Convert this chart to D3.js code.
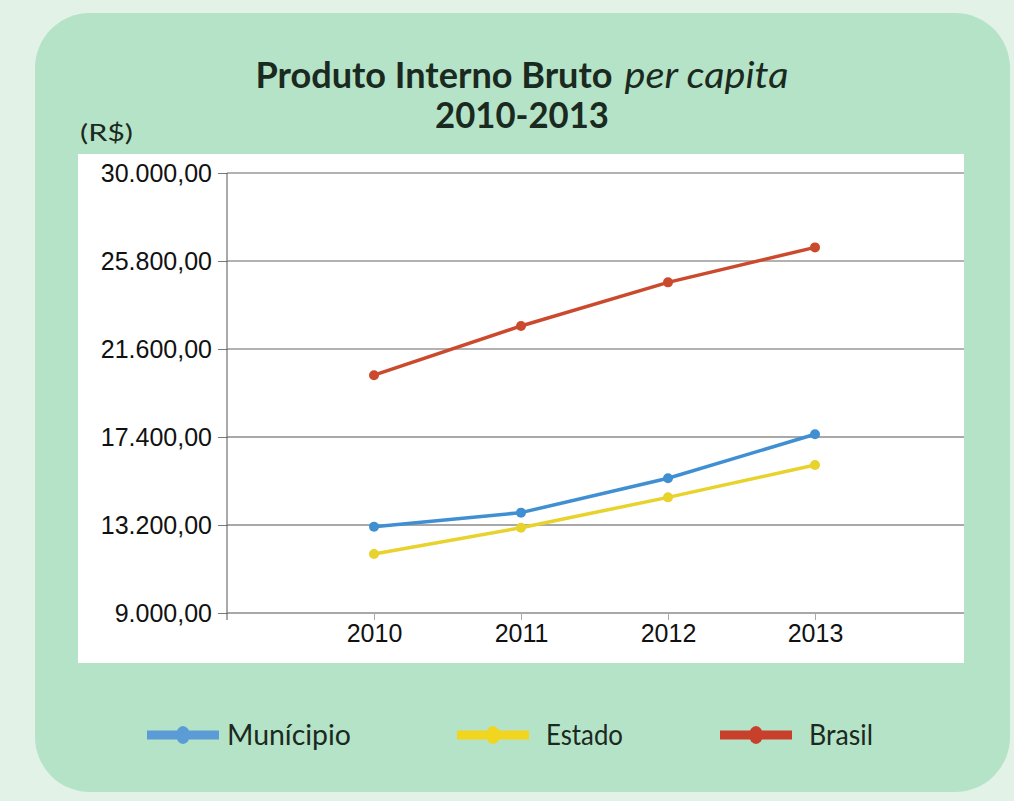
<!DOCTYPE html>
<html>
<head>
<meta charset="utf-8">
<script src="https://cdn.jsdelivr.net/npm/d3@7"></script>
<style>
  html, body { margin: 0; padding: 0; background: #e3f2e7; }
  svg { display: block; }
</style>
</head>
<body>
<div id="chart"></div>
<script>
var years = [2010, 2011, 2012, 2013];
var municipio = [13120, 13790, 15430, 17530];
var estado = [11820, 13070, 14520, 16060];
var brasil = [20350, 22700, 24780, 26450];
var yTicks = [9000, 13200, 17400, 21600, 25800, 30000];

var seriesNames = ["Munícipio", "Estado", "Brasil"];
var seriesColors = ["#3f8fd2", "#e8d22c", "#cb4a2e"];
var legendColors = ["#5b9bd6", "#f1d51f", "#c8402b"];

var width = 1014, height = 801;

var svg = d3.select("#chart")
    .append("svg")
    .attr("width", width)
    .attr("height", height);

// background + rounded panel
svg.append("rect")
    .attr("width", width).attr("height", height)
    .attr("fill", "#e3f2e7");
svg.append("rect")
    .attr("x", 35).attr("y", 13)
    .attr("width", 975).attr("height", 779)
    .attr("rx", 55).attr("ry", 55)
    .attr("fill", "#b5e3c8");

// white plot box
svg.append("rect")
    .attr("x", 78).attr("y", 154)
    .attr("width", 886).attr("height", 509)
    .attr("fill", "#ffffff");

// title
var title = svg.append("text")
    .attr("x", 522).attr("y", 88)
    .attr("text-anchor", "middle")
    .attr("fill", "#1b2a20")
    .attr("font-family", "Lato, 'Open Sans', sans-serif")
    .attr("font-size", "37px");
title.append("tspan")
    .attr("font-weight", "bold")
    .attr("textLength", 357)
    .attr("lengthAdjust", "spacingAndGlyphs")
    .text("Produto Interno Bruto");
title.append("tspan")
    .attr("font-style", "italic")
    .attr("dx", 12)
    .attr("textLength", 164)
    .attr("lengthAdjust", "spacingAndGlyphs")
    .text("per capita");

svg.append("text")
    .attr("x", 522).attr("y", 128)
    .attr("text-anchor", "middle")
    .attr("fill", "#1b2a20")
    .attr("font-family", "Lato, 'Open Sans', sans-serif")
    .attr("font-weight", "bold")
    .attr("font-size", "36px")
    .attr("textLength", 174)
    .attr("lengthAdjust", "spacingAndGlyphs")
    .text("2010-2013");

svg.append("text")
    .attr("x", 80).attr("y", 141)
    .attr("fill", "#1b2a20")
    .attr("font-family", "Lato, 'Open Sans', sans-serif")
    .attr("font-size", "24px")
    .attr("textLength", 53)
    .attr("lengthAdjust", "spacingAndGlyphs")
    .text("(R$)");

// scales
var x = d3.scaleLinear().domain([2009, 2014]).range([227, 962]);
var y = d3.scaleLinear().domain([9000, 30000]).range([613, 173]);

var ptbr = d3.formatLocale({decimal: ",", thousands: ".", grouping: [3], currency: ["R$", ""]});
var fmt = ptbr.format(",.2f");

// y axis with gridlines
var yAxis = svg.append("g")
    .attr("transform", "translate(227,0)")
    .call(d3.axisLeft(y).tickValues(yTicks).tickFormat(fmt).tickSize(9).tickPadding(6));
yAxis.select(".domain").remove();
yAxis.selectAll(".tick line").attr("stroke", "#777");
yAxis.selectAll(".tick text")
    .attr("fill", "#111")
    .attr("font-family", "'Liberation Sans', Arial, sans-serif")
    .attr("font-size", "25px");

svg.append("g")
    .selectAll("line")
    .data(yTicks)
    .enter()
    .append("line")
    .attr("x1", 227).attr("x2", 964)
    .attr("y1", function(d){ return y(d); })
    .attr("y2", function(d){ return y(d); })
    .attr("stroke", function(d){ return d >= 21600 ? "#666" : "#a8a8a8"; })
    .attr("stroke-width", function(d){ return d >= 21600 ? 1.2 : 2; });

// y axis line
svg.append("line")
    .attr("x1", 227).attr("x2", 227)
    .attr("y1", y(30000)).attr("y2", y(9000) + 7)
    .attr("stroke", "#555").attr("stroke-width", 1);

// x axis
var xAxis = svg.append("g")
    .attr("transform", "translate(0," + y(9000) + ")")
    .call(d3.axisBottom(x).tickValues(years).tickFormat(d3.format("d")).tickSize(7).tickPadding(4));
xAxis.select(".domain").remove();
xAxis.selectAll(".tick line").attr("stroke", "#aaa");
xAxis.selectAll(".tick text")
    .attr("fill", "#111")
    .attr("font-family", "'Liberation Sans', Arial, sans-serif")
    .attr("font-size", "25px");

// lines
var allSeries = [municipio, estado, brasil];
var line = d3.line()
    .x(function(d, i){ return x(years[i]); })
    .y(function(d){ return y(d); });

allSeries.forEach(function(vals, s) {
    svg.append("path")
        .datum(vals)
        .attr("d", line)
        .attr("fill", "none")
        .attr("stroke", seriesColors[s])
        .attr("stroke-width", 3.5);
    svg.selectAll(".pt" + s)
        .data(vals)
        .enter()
        .append("circle")
        .attr("class", "pt" + s)
        .attr("cx", function(d, i){ return x(years[i]); })
        .attr("cy", function(d){ return y(d); })
        .attr("r", 5)
        .attr("fill", seriesColors[s]);
});

// legend
var legendX = [147, 457, 720];
var legendW = [124, 77, 64];
var legend = svg.selectAll(".legend")
    .data(seriesNames)
    .enter()
    .append("g")
    .attr("class", "legend")
    .attr("transform", function(d, i){ return "translate(" + legendX[i] + ",735)"; });
legend.append("line")
    .attr("x1", 0).attr("x2", 72)
    .attr("y1", 0).attr("y2", 0)
    .attr("stroke", function(d, i){ return legendColors[i]; })
    .attr("stroke-width", 9);
legend.append("ellipse")
    .attr("cx", 36).attr("cy", 0)
    .attr("rx", 7).attr("ry", 9)
    .attr("fill", function(d, i){ return legendColors[i]; });
legend.append("text")
    .attr("x", function(d, i){ return i == 0 ? 80 : 89; })
    .attr("y", 10)
    .attr("fill", "#1b2a20")
    .attr("font-family", "Lato, 'Open Sans', sans-serif")
    .attr("font-size", "28px")
    .attr("textLength", function(d, i){ return legendW[i]; })
    .attr("lengthAdjust", "spacingAndGlyphs")
    .text(function(d){ return d; });
</script>
</body>
</html>
